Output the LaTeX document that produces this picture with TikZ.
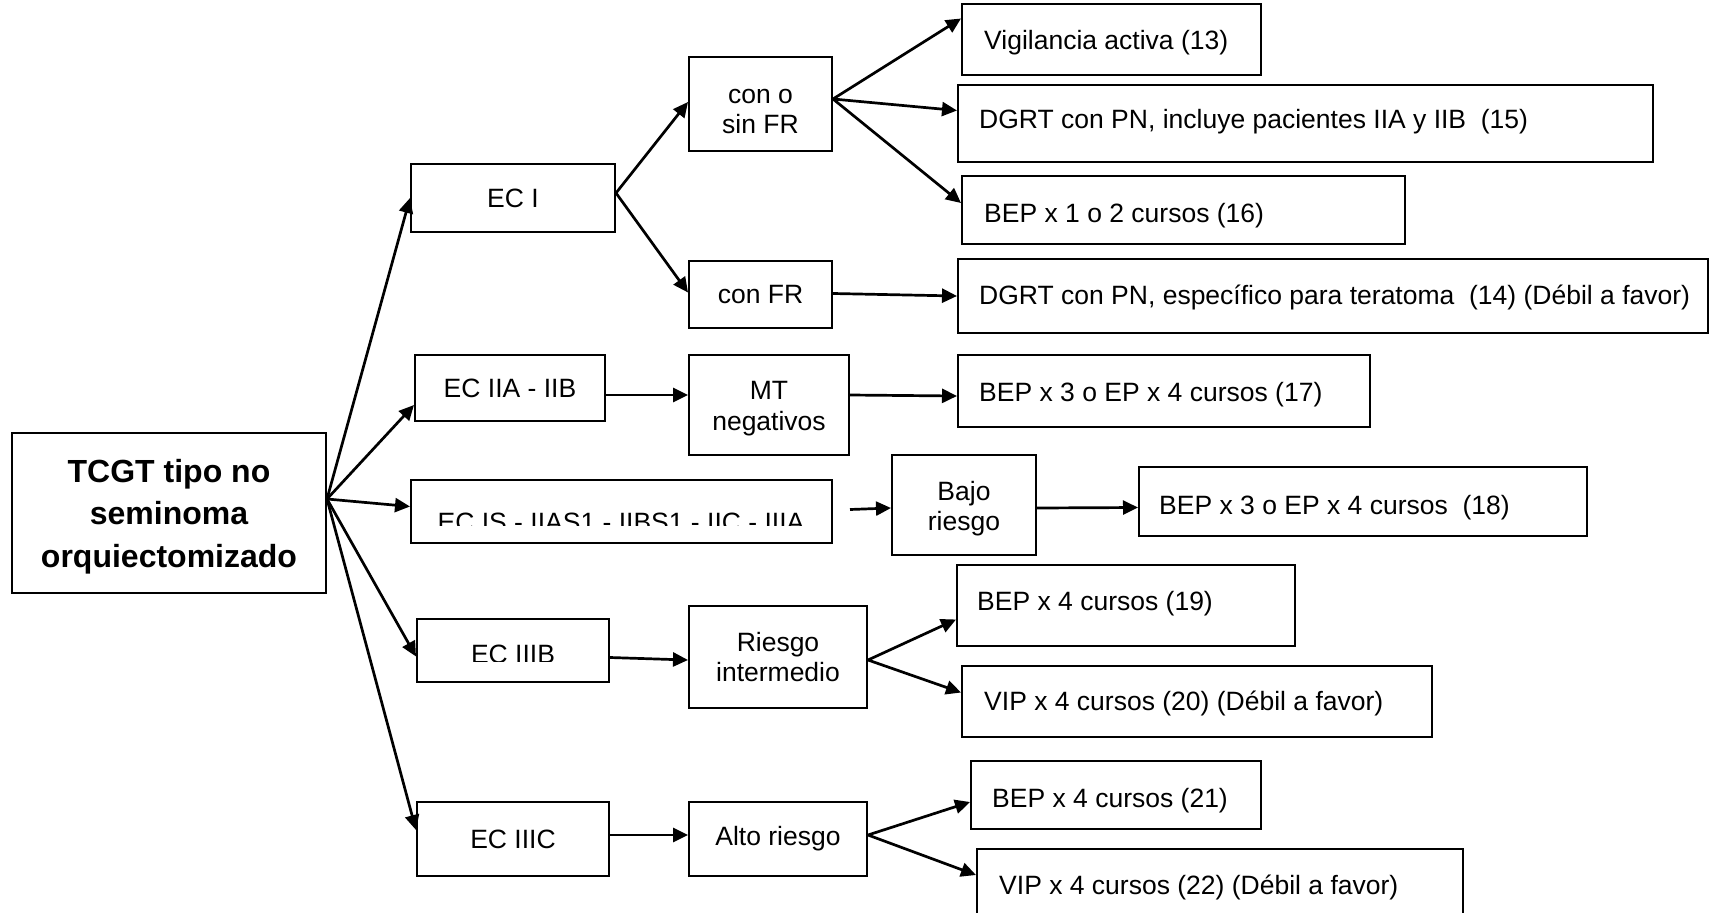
\documentclass[tikz,border=0pt]{standalone}
\usepackage{fontspec}
\setmainfont{Liberation Sans}
\usetikzlibrary{arrows.meta}
\begin{document}
\begin{tikzpicture}[x=1pt,y=-1pt,
  box/.style={draw, line width=2pt, inner sep=0pt, align=center, font=\fontsize{26.5pt}{30.5pt}\selectfont},
  txt/.style={inner sep=0pt, anchor=west, font=\fontsize{26.5pt}{30.5pt}\selectfont},
  ctxt/.style={inner sep=0pt, align=center, font=\fontsize{26.5pt}{30.5pt}\selectfont},
  stxt/.style={inner sep=0pt, font=\fontsize{26.5pt}{30.5pt}\selectfont},
  arr/.style={line width=2.7pt, -{Triangle[length=15pt,width=14pt]}},
]
\clip (0,0) rectangle (1711,913);
\fill[white] (0,0) rectangle (1711,913);

% root
\node[box, minimum width=314pt, minimum height=160pt] (main) at (169,513) {};
\node[ctxt, font=\fontsize{32pt}{42.5pt}\selectfont\bfseries] (maint) at (169,516.4)
      {TCGT tipo no\\seminoma\\orquiectomizado};

% first level
\node[box, minimum width=204pt, minimum height=68pt] (ECI) at (513,198) {EC I};
\node[box, minimum width=190pt, minimum height=66pt] (ECIIA) at (510,388) {EC IIA - IIB};
\node[box, minimum width=421pt, minimum height=63pt] (ECIS) at (621.5,511.5) {};
\node[box, minimum width=192pt, minimum height=63pt] (ECIIIB) at (513,650.5) {};
\node[box, minimum width=192pt, minimum height=74pt] (ECIIIC) at (513,839) {EC IIIC};

\begin{scope}
  \clip (411,480) rectangle (832,525);
  \node[stxt] (ECISt) at (621,522.5) {EC IS - IIAS1 - IIBS1 - IIC - IIIA};
\end{scope}
\begin{scope}
  \clip (417,619) rectangle (609,661);
  \node[stxt] (ECIIIBt) at (513,654.5) {EC IIIB};
\end{scope}

% second level
\node[box, minimum width=143pt, minimum height=94pt] (conosin) at (760.5,104) {};
\node[ctxt] (conosint) at (760.5,111.5) {con o\\sin FR};
\node[box, minimum width=143pt, minimum height=67pt] (conFR) at (760.5,294.5) {con FR};
\node[box, minimum width=160pt, minimum height=100pt] (MT) at (769,405) {};
\node[ctxt] (MTt) at (769,408.5) {MT\\negativos};
\node[box, minimum width=144pt, minimum height=100pt] (Bajo) at (964,505) {};
\node[ctxt] (Bajot) at (964,508.5) {Bajo\\riesgo};
\node[box, minimum width=178pt, minimum height=102pt] (Riesgo) at (778,657) {Riesgo\\intermedio};
\node[box, minimum width=178pt, minimum height=74pt] (Alto) at (778,839) {Alto riesgo};

% result boxes
\node[box, minimum width=299pt, minimum height=71pt] (Vig) at (1111.5,39.5) {};
\node[box, minimum width=695pt, minimum height=77pt] (DG15) at (1305.5,123.5) {};
\node[box, minimum width=443pt, minimum height=68pt] (BEP16) at (1183.5,210) {};
\node[box, minimum width=750pt, minimum height=74pt] (DG14) at (1333,296) {};
\node[box, minimum width=412pt, minimum height=72pt] (BEP17) at (1164,391) {};
\node[box, minimum width=448pt, minimum height=69pt] (BEP18) at (1363,501.5) {};
\node[box, minimum width=338pt, minimum height=81pt] (BEP19) at (1126,605.5) {};
\node[box, minimum width=470pt, minimum height=71pt] (VIP20) at (1197,701.5) {};
\node[box, minimum width=290pt, minimum height=68pt] (BEP21) at (1116,795) {};
\node[box, minimum width=486pt, minimum height=76pt] (VIP22) at (1220,887) {};

\node[txt] (Vigt) at (984,42.5) {Vigilancia activa (13)};
\node[txt] (DG15t) at (979,121.5) {DGRT con PN, incluye pacientes IIA y IIB\ \ (15)};
\node[txt] (BEP16t) at (984,215.5) {BEP x 1 o 2 cursos (16)};
\node[txt] (DG14t) at (979,297.5) {DGRT con PN, específico para teratoma\ \ (14) (Débil a favor)};
\node[txt] (BEP17t) at (979,394.5) {BEP x 3 o EP x 4 cursos (17)};
\node[txt] (BEP18t) at (1159,507.5) {BEP x 3 o EP x 4 cursos\ \ (18)};
\node[txt] (BEP19t) at (977,604) {BEP x 4 cursos (19)};
\node[txt] (VIP20t) at (984,703.5) {VIP x 4 cursos (20) (Débil a favor)};
\node[txt] (BEP21t) at (992,801) {BEP x 4 cursos (21)};
\node[txt] (VIP22t) at (999,887.5) {VIP x 4 cursos (22) (Débil a favor)};

% connectors
\draw[arr] ([yshift=14pt]main.east) -- (ECI.west);
\draw[arr] ([yshift=14pt]main.east) -- ([yshift=-17pt]ECIIA.west);
\draw[arr] ([yshift=14pt]main.east) -- ([yshift=5pt]ECIS.west);
\draw[arr] ([yshift=14pt]main.east) -- ([yshift=-6pt]ECIIIB.west);
\draw[arr] ([yshift=14pt]main.east) -- ([yshift=9pt]ECIIIC.west);

\draw[arr] ([yshift=5pt]ECI.east) -- ([yshift=2pt]conosin.west);
\draw[arr] ([yshift=5pt]ECI.east) -- ([yshift=2pt]conFR.west);
\draw[arr] ([yshift=5pt]conosin.east) -- ([yshift=21pt]Vig.west);
\draw[arr] ([yshift=5pt]conosin.east) -- ([yshift=13pt]DG15.west);
\draw[arr] ([yshift=5pt]conosin.east) -- ([yshift=7pt]BEP16.west);
\draw[arr] ([yshift=1pt]conFR.east) -- (DG14.west);

\draw[arr] ([yshift=-7pt]ECIIA.east) -- ([yshift=10pt]MT.west);
\draw[arr] ([yshift=10pt]MT.east) -- ([yshift=-5pt]BEP17.west);

\draw[arr] ([xshift=17pt,yshift=2pt]ECIS.east) -- ([yshift=-3pt]Bajo.west);
\draw[arr] ([yshift=-3pt]Bajo.east) -- ([yshift=-6pt]BEP18.west);

\draw[arr] ([yshift=-7pt]ECIIIB.east) -- ([yshift=-3pt]Riesgo.west);
\draw[arr] ([yshift=-3pt]Riesgo.east) -- ([yshift=-14pt]BEP19.west);
\draw[arr] ([yshift=-3pt]Riesgo.east) -- ([yshift=9pt]VIP20.west);

\draw[arr] ([yshift=4pt]ECIIIC.east) -- ([yshift=4pt]Alto.west);
\draw[arr] ([yshift=4pt]Alto.east) -- ([yshift=-7pt]BEP21.west);
\draw[arr] ([yshift=4pt]Alto.east) -- ([yshift=12pt]VIP22.west);
\end{tikzpicture}
\end{document}
